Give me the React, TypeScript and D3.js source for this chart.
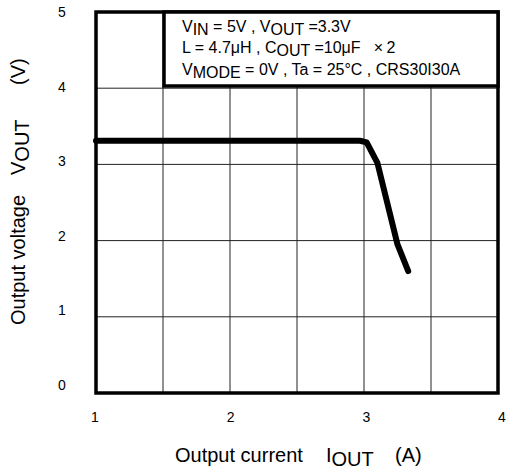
import React from "react";
import * as d3 from "d3";

const currentA = [1.0, 2.9, 2.97, 3.02, 3.1, 3.25, 3.33];
const voltageV = [3.31, 3.31, 3.31, 3.29, 3.02, 1.95, 1.6];
const xTicks = [1, 2, 3, 4];
const yTicks = [0, 1, 2, 3, 4, 5];
const xGrid = [1, 1.5, 2, 2.5, 3, 3.5, 4];

const W = 506;
const H = 472;
const FONT = "'Liberation Sans', Arial, Helvetica, sans-serif";

export default function App() {
  const x = d3.scaleLinear().domain([1, 4]).range([96, 498]);
  const y = d3.scaleLinear().domain([0, 5]).range([393, 12]);
  const xLab = d3.scaleLinear().domain([1, 4]).range([95, 502]);
  const yLab = d3.scaleLinear().domain([0, 5]).range([385, 12.5]);

  const line = d3
    .line<number>()
    .x((d, i) => x(currentA[i]))
    .y((d) => y(d))
    .curve(d3.curveLinear);

  return (
    <svg
      width={W}
      height={H}
      style={{ position: "absolute", left: 0, top: 0, background: "#fff" }}
      fontFamily={FONT}
    >
      <rect x={0} y={0} width={W} height={H} fill="#fff" />
      {/* grid */}
      {xGrid.map((v) => (
        <line key={"gx" + v} x1={x(v)} x2={x(v)} y1={y(0)} y2={y(5)} stroke="#222" strokeWidth={1} />
      ))}
      {yTicks.map((v) => (
        <line key={"gy" + v} x1={x(1)} x2={x(4)} y1={y(v)} y2={y(v)} stroke="#222" strokeWidth={1} />
      ))}
      {/* data line */}
      <path d={line(voltageV) || ""} fill="none" stroke="#000" strokeWidth={6} strokeLinejoin="round" strokeLinecap="round" />
      {/* frame */}
      <rect x={x(1)} y={y(5)} width={x(4) - x(1)} height={y(0) - y(5)} fill="none" stroke="#000" strokeWidth={3.5} />
      {/* legend box */}
      <rect x={164} y={y(5)} width={x(4) - 164} height={86 - y(5)} fill="#fff" stroke="#000" strokeWidth={3.5} />
      <g fontSize={16} fill="#000">
        <text x={182} y={32}>
          V<tspan dy={3}>IN</tspan>
          <tspan dy={-3}>{" = 5V , V"}</tspan>
          <tspan dy={3}>OUT</tspan>
          <tspan dy={-3}>{" =3.3V"}</tspan>
        </text>
        <text x={182} y={53}>
          {"L = 4.7μH , C"}
          <tspan dy={3}>OUT</tspan>
          <tspan dy={-3}>{" =10μF\u00A0\u00A0\u00A0×\u20092"}</tspan>
        </text>
        <text x={182} y={75}>
          V<tspan dy={3}>MODE</tspan>
          <tspan dy={-3}>{" = 0V , Ta = 25°C , CRS30I30A"}</tspan>
        </text>
      </g>
      {/* tick labels */}
      <g fontSize={14} fill="#000" textAnchor="middle">
        {yTicks.map((v) => (
          <text key={"yl" + v} x={62} y={yLab(v)} dy="0.35em">
            {v}
          </text>
        ))}
        {xTicks.map((v) => (
          <text key={"xl" + v} x={xLab(v)} y={417} dy="0.35em">
            {v}
          </text>
        ))}
      </g>
      {/* axis titles */}
      <g fontSize={20} fill="#000">
        <text x={175} y={462}>Output current</text>
        <text x={326} y={462}>
          I<tspan dy={4}>OUT</tspan>
        </text>
        <text x={395} y={462}>(A)</text>
        <text transform="translate(25,325) rotate(-90)">Output voltage</text>
        <text transform="translate(25,175) rotate(-90)">
          V<tspan dy={4}>OUT</tspan>
        </text>
        <text transform="translate(25,85) rotate(-90)">(V)</text>
      </g>
    </svg>
  );
}
